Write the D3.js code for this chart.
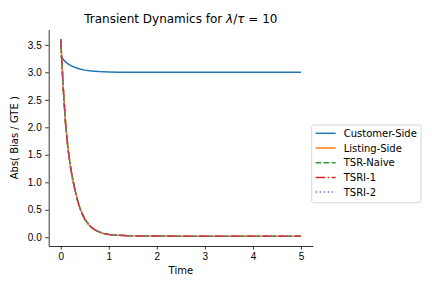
<!DOCTYPE html>
<html>
<head>
<meta charset="utf-8">
<script src="https://cdn.jsdelivr.net/npm/d3@7"></script>
<style>
  body { margin: 0; background: #fff; }
  svg { font-family: "DejaVu Sans", sans-serif; }
  .tick text { font-size: 10px; fill: #000; }
</style>
</head>
<body>
<div id="chart"></div>
<script>
"use strict";

// Sample times.
const times = [0, 0.05, 0.1, 0.15, 0.2, 0.25, 0.3, 0.35, 0.4, 0.45, 0.5, 0.6, 0.7, 0.8, 0.9, 1.0,
               1.2, 1.4, 1.7, 2.0, 2.5, 3.0, 3.5, 4.0, 4.5, 5.0];

// Series values at those times.
const customerSide = [3.30, 3.24, 3.19, 3.155, 3.13, 3.105, 3.09, 3.075, 3.06, 3.05, 3.04, 3.028, 3.02, 3.013, 3.009, 3.006,
                      3.003, 3.001, 3.0, 3.0, 3.0, 3.0, 3.0, 3.0, 3.0, 3.0];
const listingSide  = [3.60, 2.75, 2.08, 1.62, 1.30, 1.05, 0.85, 0.67, 0.53, 0.42, 0.33, 0.21, 0.14, 0.095, 0.068, 0.05,
                      0.035, 0.028, 0.024, 0.022, 0.02, 0.02, 0.02, 0.02, 0.02, 0.02];
const tsrNaive     = [3.60, 2.75, 2.08, 1.62, 1.30, 1.05, 0.85, 0.67, 0.53, 0.42, 0.33, 0.21, 0.14, 0.095, 0.068, 0.05,
                      0.035, 0.028, 0.024, 0.022, 0.02, 0.02, 0.02, 0.02, 0.02, 0.02];
const tsri1        = [3.60, 2.75, 2.08, 1.62, 1.30, 1.05, 0.85, 0.67, 0.53, 0.42, 0.33, 0.21, 0.14, 0.095, 0.068, 0.05,
                      0.035, 0.028, 0.024, 0.022, 0.02, 0.02, 0.02, 0.02, 0.02, 0.02];
const tsri2        = [3.60, 2.75, 2.08, 1.62, 1.30, 1.05, 0.85, 0.67, 0.53, 0.42, 0.33, 0.21, 0.14, 0.095, 0.068, 0.05,
                      0.035, 0.028, 0.024, 0.022, 0.02, 0.02, 0.02, 0.02, 0.02, 0.02];

const seriesNames = ["Customer-Side", "Listing-Side", "TSR-Naive", "TSRI-1", "TSRI-2"];
const seriesValues = [customerSide, listingSide, tsrNaive, tsri1, tsri2];
const xTicks = [0, 1, 2, 3, 4, 5];
const yTicks = [0, 0.5, 1.0, 1.5, 2.0, 2.5, 3.0, 3.5];

// Styles (matplotlib default cycle).
const colors = ["#1f77b4", "#ff7f0e", "#2ca02c", "#d62728", "#9467bd"];
const dashes = [null, null, "5.55,2.4", "9.6,2.4,1.5,2.4", "1.5,2.475"];

const width = 432, height = 288;
const plot = {left: 48.7, right: 313, top: 29.5, bottom: 246};

const svg = d3.select("#chart").append("svg")
    .attr("width", width)
    .attr("height", height);

const x = d3.scaleLinear().domain([-0.25, 5.25]).range([plot.left, plot.right]);
const y = d3.scaleLinear().domain([-0.159, 3.779]).range([plot.bottom, plot.top]);

// Lines.
const line = d3.line()
    .x((d, i) => x(times[i]))
    .y(d => y(d));

seriesValues.forEach((vals, k) => {
    svg.append("path")
        .datum(vals)
        .attr("fill", "none")
        .attr("stroke", colors[k])
        .attr("stroke-width", 1.5)
        .attr("stroke-dasharray", dashes[k])
        .attr("stroke-linejoin", "round")
        .attr("d", line);
});

// Axes.
const xAxis = svg.append("g")
    .attr("transform", "translate(0," + plot.bottom + ")")
    .call(d3.axisBottom(x).tickValues(xTicks).tickFormat(d3.format("d")).tickSizeInner(3.5).tickSizeOuter(0).tickPadding(3.5));
const yAxis = svg.append("g")
    .attr("transform", "translate(" + plot.left + ",0)")
    .call(d3.axisLeft(y).tickValues(yTicks).tickFormat(d3.format(".1f")).tickSizeInner(3.5).tickSizeOuter(0).tickPadding(3.5));
[xAxis, yAxis].forEach(g => {
    g.select(".domain").attr("stroke", "#000").attr("stroke-width", 0.8);
    g.selectAll(".tick line").attr("stroke", "#000").attr("stroke-width", 0.8);
});

// Labels.
svg.append("text")
    .attr("x", (plot.left + plot.right) / 2)
    .attr("y", 274)
    .attr("text-anchor", "middle")
    .style("font-size", "10px")
    .text("Time");

svg.append("text")
    .attr("transform", "translate(18," + ((plot.top + plot.bottom) / 2) + ") rotate(-90)")
    .attr("text-anchor", "middle")
    .style("font-size", "10px")
    .text("Abs( Bias / GTE )");

const title = svg.append("text")
    .attr("x", (plot.left + plot.right) / 2)
    .attr("y", 23)
    .attr("text-anchor", "middle")
    .style("font-size", "12px");
title.append("tspan").text("Transient Dynamics for ");
title.append("tspan").style("font-style", "italic").text("λ");
title.append("tspan").text("/");
title.append("tspan").style("font-style", "italic").text("τ");
title.append("tspan").text(" = 10");

// Legend.
const legend = svg.append("g");
legend.append("rect")
    .attr("x", 311.7).attr("y", 125)
    .attr("width", 109.3).attr("height", 77.7)
    .attr("rx", 2)
    .attr("fill", "#fff")
    .attr("fill-opacity", 0.8)
    .attr("stroke", "#cccccc")
    .attr("stroke-width", 0.8);

seriesNames.forEach((name, k) => {
    const cy = 133.3 + k * 14.7;
    legend.append("line")
        .attr("x1", 315.7).attr("x2", 335.7)
        .attr("y1", cy).attr("y2", cy)
        .attr("stroke", colors[k])
        .attr("stroke-width", 1.5)
        .attr("stroke-dasharray", dashes[k]);
    legend.append("text")
        .attr("x", 343.7)
        .attr("y", cy + 3.6)
        .style("font-size", "10px")
        .text(name);
});
</script>
</body>
</html>
